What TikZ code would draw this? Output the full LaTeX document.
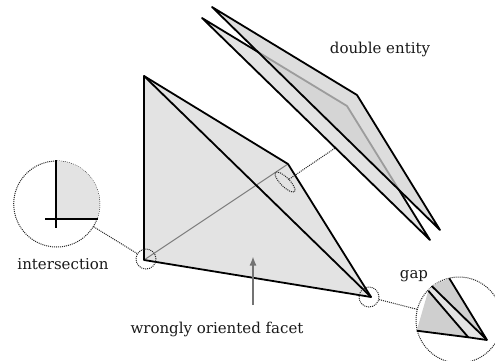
\documentclass[tikz,border=0pt]{standalone}
\usepackage{fontspec}
\setmainfont{DejaVu Serif}
\usetikzlibrary{arrows.meta,shapes.geometric}

\begin{document}
\begin{tikzpicture}[
  x=1pt, y=-1pt,
  edgeline/.style={draw=black, line width=1.8pt, line join=round},
  hiddenline/.style={draw=gray, line width=1pt},
  sheet/.style={fill=black!18, fill opacity=0.75},
  facefill/.style={fill=black!11},
  darkfill/.style={fill=black!19},
  dotline/.style={draw=black!85, line width=1pt, dash pattern=on 1pt off 1pt},
  spot/.style={circle, dotline, minimum size=20pt, inner sep=0pt},
  lens/.style={circle, dotline, minimum size=86pt, inner sep=0pt},
  label/.style={font=\fontsize{15}{18}\selectfont, inner sep=0pt, text=black!90}
]
\clip (0,0) rectangle (495,361);
% facet with the wrong orientation
\coordinate (topA) at (144,76);
\coordinate (botB) at (144,260);
\coordinate (botC) at (371,297);
\coordinate (midD) at (288,164);
\fill[facefill] (topA) -- (botB) -- (botC) -- (midD) -- cycle;
\draw[hiddenline] (botB) -- (midD);
\draw[edgeline] (topA) -- (botB) -- (botC) -- (midD) -- cycle;
\draw[edgeline] (topA) -- (botC);
% spots and the line through the tetrahedron
\node[spot] (spotL) at (146,259) {};
\node[spot] (spotR) at (369,297) {};
\node[ellipse, dotline, rotate=-45, minimum width=27pt, minimum height=9pt, inner sep=0pt] (spotF) at (285,182) {};
\coordinate (entityEnd) at (350,138);
\draw[dotline] (spotF) -- (entityEnd);
% double entity
\coordinate (lowA) at (202,18);
\coordinate (lowB) at (347,106);
\coordinate (lowC) at (430,240);
\coordinate (upA) at (212,7);
\coordinate (upB) at (357,95);
\coordinate (upC) at (440,230);
\fill[facefill] (lowA) -- (lowB) -- (lowC) -- cycle;
\draw[edgeline] (lowA) -- (lowB) -- (lowC) -- cycle;
\path[sheet] (upA) -- (upB) -- (upC) -- cycle;
\draw[edgeline] (upA) -- (upB) -- (upC) -- cycle;
% left lens
\node[lens] (lensL) at (56.7,204) {};
\begin{scope}
  \clip (lensL.center) circle[radius=43];
  \fill[facefill] (55.7,150) rectangle (105,218.7);
\end{scope}
\draw[edgeline] (55.7,160) -- (55.7,227.7);
\draw[edgeline] (45,218.7) -- (98.3,218.7);
\draw[dotline] (lensL) -- (spotL);
% right lens
\node[lens] (lensR) at (459,320) {};
\begin{scope}
  \clip (lensR.center) circle[radius=43];
  \fill[darkfill] (416.7,330.7) -- (428.3,290.7) -- (468.3,337.3) -- cycle;
  \fill[facefill] (428.3,290.7) -- (431.7,286) -- (487,340) -- (468.3,337.3) -- cycle;
  \fill[darkfill] (431.7,286) -- (449.3,278.3) -- (487,340) -- cycle;
\end{scope}
\coordinate (tipR) at (487,340);
\draw[edgeline] (449.3,278.3) -- (tipR) -- (431.7,286);
\draw[edgeline] (428.3,290.7) -- (468.3,337.3) -- (416.7,330.7);
\draw[edgeline] (468.3,337.3) -- (tipR);
\draw[dotline] (spotR) -- (lensR);
% labels
\node[label] (entityLabel) at (380,49) {double entity};
\node[label] (crossLabel) at (63,264) {intersection};
\node[label] (gapLabel) at (414,276) {gap};
\node[label] (facetLabel) at (217,329) {wrongly oriented facet};
\coordinate (facetTail) at (253,305);
\coordinate (facetTip) at (253,256.5);
\draw[draw=black!55, line width=1.3pt, -{Latex[length=9pt,width=7pt]}] (facetTail) -- (facetTip);
\end{tikzpicture}
\end{document}
